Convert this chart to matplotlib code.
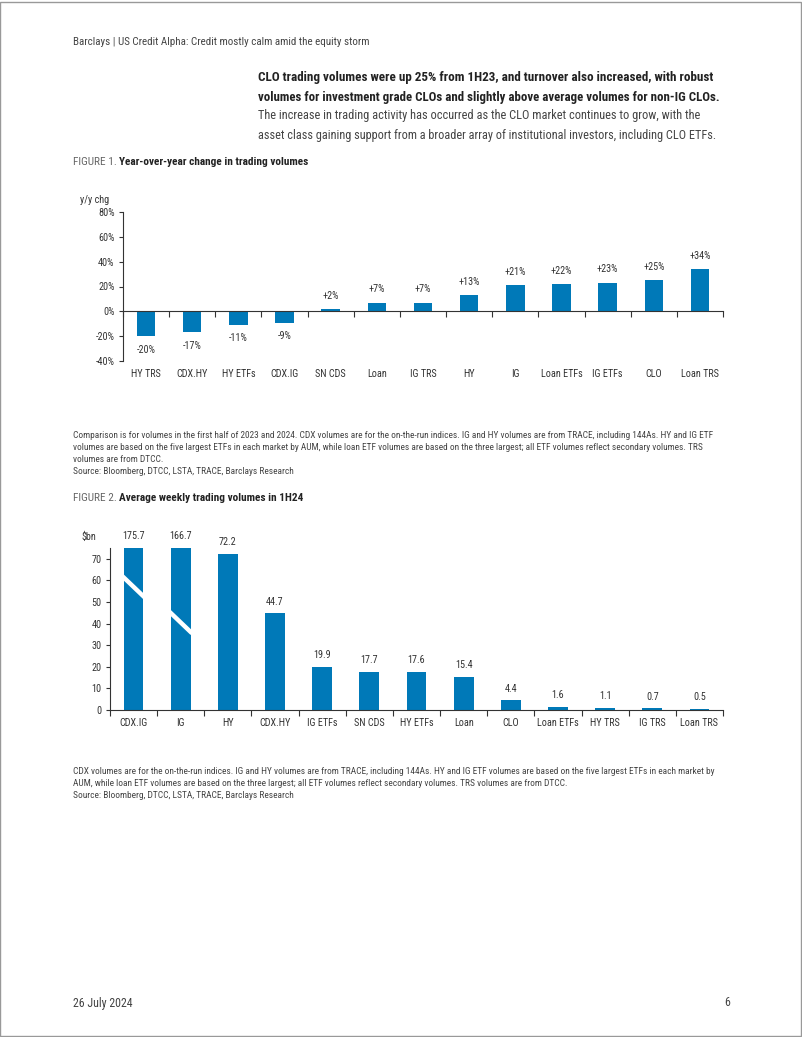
import matplotlib
matplotlib.use("Agg")
import matplotlib.pyplot as plt
from matplotlib.patches import Rectangle
from matplotlib import font_manager
import numpy as np

# ---------------- data ----------------
fig1_categories = ["HY TRS", "CDX.HY", "HY ETFs", "CDX.IG", "SN CDS", "Loan", "IG TRS",
                   "HY", "IG", "Loan ETFs", "IG ETFs", "CLO", "Loan TRS"]
fig1_values = [-20, -17, -11, -9, 2, 7, 7, 13, 21, 22, 23, 25, 34]
fig1_yticks = [-40, -20, 0, 20, 40, 60, 80]

fig2_categories = ["CDX.IG", "IG", "HY", "CDX.HY", "IG ETFs", "SN CDS", "HY ETFs", "Loan",
                   "CLO", "Loan ETFs", "HY TRS", "IG TRS", "Loan TRS"]
fig2_values = [175.7, 166.7, 72.2, 44.7, 19.9, 17.7, 17.6, 15.4, 4.4, 1.6, 1.1, 0.7, 0.5]
fig2_yticks = [0, 10, 20, 30, 40, 50, 60, 70]
fig2_cap = 75

BLUE = "#0079B8"
TXT = "#333333"
GREY = "#666666"

# look for a condensed face
cond = [f for f in font_manager.fontManager.ttflist
        if ("narrow" in f.fname.lower() or "condensed" in f.fname.lower())]
FAMILY = "Lato"
for pref in ["Liberation Sans Narrow", "Roboto Condensed", "Open Sans Condensed"]:
    if any(f.name == pref for f in cond):
        FAMILY = pref
        break
STRETCH = "normal"
if FAMILY == "Lato" and any(f.name == "DejaVu Sans" and "condensed" in f.fname.lower() for f in cond):
    FAMILY = "DejaVu Sans"
    STRETCH = "condensed"
plt.rcParams["font.family"] = [FAMILY, "DejaVu Sans"]
plt.rcParams["font.stretch"] = STRETCH

W, H = 802, 1037
fig = plt.figure(figsize=(W / 100, H / 100), dpi=100)
renderer = fig.canvas.get_renderer()

def px(x, y):
    return x / W, 1 - y / H

def text(x, y, s, width=None, **kw):
    fx, fy = px(x, y)
    kw.setdefault("color", TXT)
    kw.setdefault("va", "center")
    t = fig.text(fx, fy, s, **kw)
    if width is not None:
        w = t.get_window_extent(renderer=renderer).width
        t.set_fontsize(t.get_fontsize() * width / w)
    return t

def fit_size(s, width, base=8.0):
    t = fig.text(0, 0, s, fontsize=base)
    w = t.get_window_extent(renderer=renderer).width
    t.remove()
    return base * width / w

def axes_px(l, t, r, b):
    return fig.add_axes([l / W, 1 - b / H, (r - l) / W, (b - t) / H])

# page border
fig.add_artist(Rectangle((0.0005, 0.0005), 0.998, 0.998, transform=fig.transFigure,
                         fill=False, edgecolor="#999999", lw=1))

# header
text(73, 42, "Barclays | US Credit Alpha: Credit mostly calm amid the equity storm",
     width=297, fontsize=9, color="#444444")
text(258, 78, "CLO trading volumes were up 25% from 1H23, and turnover also increased, with robust",
     width=455, fontsize=10.5, fontweight="bold", color="#222222")
text(258, 97, "volumes for investment grade CLOs and slightly above average volumes for non-IG CLOs.",
     width=460, fontsize=10.5, fontweight="bold", color="#222222")
text(258, 116, "The increase in trading activity has occurred as the CLO market continues to grow, with the",
     width=446, fontsize=10.5, color="#444444")
text(258, 135, "asset class gaining support from a broader array of institutional investors, including CLO ETFs.",
     width=460, fontsize=10.5, color="#444444")

def fig_title(y, num, title, total):
    fx, fy = px(73, y)
    t1 = fig.text(fx, fy, f"FIGURE {num}. ", fontsize=8, color=GREY, va="center")
    t2 = fig.text(0, fy, title, fontsize=8, fontweight="bold", color="#222222", va="center")
    w = t1.get_window_extent(renderer).width + t2.get_window_extent(renderer).width
    f = total / w
    t1.set_fontsize(8 * f)
    t2.set_fontsize(8 * f)
    t2.set_x((73 + t1.get_window_extent(renderer).width) / W)

fig_title(162, 1, "Year-over-year change in trading volumes", 237)

TICK_FS = min(fit_size("Loan ETFs", 42), 8.5)

# ---------------- Figure 1 ----------------
ax1 = axes_px(123, 212, 723, 361)
x1 = np.arange(len(fig1_categories))
ax1.bar(x1, fig1_values, width=0.4, color=BLUE, zorder=2)
ax1.set_xlim(-0.5, len(fig1_categories) - 0.5)
ax1.set_ylim(-40, 80)
ax1.set_yticks(fig1_yticks)
ax1.set_yticklabels([f"{v}%" for v in fig1_yticks], fontsize=TICK_FS, color=TXT)
for s in ["top", "right"]:
    ax1.spines[s].set_visible(False)
ax1.spines["bottom"].set_position(("data", 0))
for s in ["left", "bottom"]:
    ax1.spines[s].set_color("#333333")
    ax1.spines[s].set_linewidth(0.8)
ax1.set_xticks(np.arange(len(fig1_categories) + 1) - 0.5)
ax1.set_xticklabels([])
ax1.tick_params(axis="x", direction="out", length=4, width=0.8, color="#333333")
ax1.tick_params(axis="y", direction="out", length=3, width=0.8, color="#333333", pad=3)
for xi, v in zip(x1, fig1_values):
    lbl = f"+{v}%" if v > 0 else f"{v}%"
    if v >= 0:
        ax1.annotate(lbl, (xi, v), xytext=(0, 6), textcoords="offset points",
                     ha="center", va="bottom", fontsize=TICK_FS, color=TXT)
    else:
        ax1.annotate(lbl, (xi, v), xytext=(0, -6), textcoords="offset points",
                     ha="center", va="top", fontsize=TICK_FS, color=TXT)
for xi, c in zip(x1, fig1_categories):
    ax1.annotate(c, (xi, -40), xytext=(0, -6), textcoords="offset points",
                 ha="center", va="top", fontsize=TICK_FS, color=TXT, annotation_clip=False)
text(80, 200, "y/y chg", fontsize=TICK_FS)

notes1 = ["Comparison is for volumes in the first half of 2023 and 2024. CDX volumes are for the on-the-run indices. IG and HY volumes are from TRACE, including 144As. HY and IG ETF",
          "volumes are based on the five largest ETFs in each market by AUM, while loan ETF volumes are based on the three largest; all ETF volumes reflect secondary volumes. TRS",
          "volumes are from DTCC.",
          "Source: Bloomberg, DTCC, LSTA, TRACE, Barclays Research"]
nfs = fit_size(notes1[0], 644, 7)
for i, s in enumerate(notes1):
    text(73, 436 + 12 * i, s, fontsize=nfs, color="#444444")

fig_title(498, 2, "Average weekly trading volumes in 1H24", 231)

# ---------------- Figure 2 ----------------
ax2 = axes_px(110, 548, 723, 710)
x2 = np.arange(len(fig2_categories))
shown = [min(v, fig2_cap) for v in fig2_values]
ax2.bar(x2, shown, width=0.42, color=BLUE, zorder=2)
ax2.set_xlim(-0.5, len(fig2_categories) - 0.5)
ax2.set_ylim(0, fig2_cap)
ax2.set_yticks(fig2_yticks)
ax2.set_yticklabels([str(v) for v in fig2_yticks], fontsize=TICK_FS, color=TXT)
for s in ["top", "right"]:
    ax2.spines[s].set_visible(False)
for s in ["left", "bottom"]:
    ax2.spines[s].set_color("#333333")
    ax2.spines[s].set_linewidth(0.8)
ax2.set_xticks(np.arange(len(fig2_categories) + 1) - 0.5)
ax2.set_xticklabels([])
ax2.tick_params(axis="x", direction="out", length=4, width=0.8, color="#333333")
ax2.tick_params(axis="y", direction="out", length=3, width=0.8, color="#333333", pad=3)
for xi, v, sv in zip(x2, fig2_values, shown):
    ax2.annotate(f"{v:.1f}", (xi, sv), xytext=(0, 5), textcoords="offset points",
                 ha="center", va="bottom", fontsize=TICK_FS, color=TXT, annotation_clip=False)
for xi, c in zip(x2, fig2_categories):
    ax2.annotate(c, (xi, 0), xytext=(0, -6), textcoords="offset points",
                 ha="center", va="top", fontsize=TICK_FS, color=TXT, annotation_clip=False)
break_centres = [57, 40.5]
for k, yc in enumerate(break_centres):
    if fig2_values[k] > fig2_cap:
        ax2.plot([k - 0.24, k + 0.24], [yc + 5, yc - 5], color="white", lw=3.2,
                 solid_capstyle="butt", zorder=3)
text(81, 537, "$bn", fontsize=TICK_FS)

notes2 = ["CDX volumes are for the on-the-run indices. IG and HY volumes are from TRACE, including 144As. HY and IG ETF volumes are based on the five largest ETFs in each market by",
          "AUM, while loan ETF volumes are based on the three largest; all ETF volumes reflect secondary volumes. TRS volumes are from DTCC.",
          "Source: Bloomberg, DTCC, LSTA, TRACE, Barclays Research"]
for i, s in enumerate(notes2):
    text(73, 771 + 12 * i, s, fontsize=nfs, color="#444444")

# footer
text(73, 1003, "26 July 2024", width=60, fontsize=9, color="#444444")
text(730, 1003, "6", fontsize=fit_size("26 July 2024", 60, 9), ha="right", color="#444444")

fig.savefig("out.png", dpi=100)
